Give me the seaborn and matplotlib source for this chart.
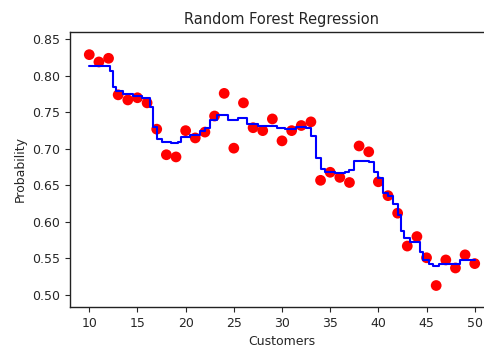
import numpy as np
import matplotlib
matplotlib.use("Agg")
import matplotlib.pyplot as plt
import seaborn as sns
import pandas as pd

# observed points
customers = list(range(10, 51))
probability = [0.829, 0.819, 0.824, 0.774, 0.767, 0.770, 0.763, 0.727, 0.692, 0.689,
               0.725, 0.715, 0.723, 0.745, 0.776, 0.701, 0.763, 0.729, 0.725, 0.741,
               0.711, 0.725, 0.732, 0.737, 0.657, 0.668, 0.661, 0.654, 0.704, 0.696,
               0.655, 0.636, 0.612, 0.567, 0.580, 0.551, 0.513, 0.548, 0.537, 0.555,
               0.543]

# random forest prediction, as steps (left edge of each step, level)
step_x = [10.0, 12.2, 12.5, 12.8, 13.5, 14.5, 15.5, 16.3, 16.6, 17.0, 17.5, 18.5,
          19.2, 19.5, 20.5, 21.5, 22.0, 22.5, 23.3, 24.4, 25.4, 26.4, 27.5, 29.5,
          30.3, 31.5, 32.5, 33.0, 33.5, 34.0, 34.5, 35.5, 36.5, 37.0, 37.5, 39.0,
          39.5, 40.0, 40.5, 41.0, 41.5, 42.0, 42.4, 42.7, 43.3, 44.3, 44.6, 45.3,
          45.7, 46.3, 47.5, 48.5, 50.0]
step_y = [0.813, 0.806, 0.785, 0.779, 0.775, 0.772, 0.769, 0.758, 0.730, 0.714,
          0.710, 0.708, 0.710, 0.716, 0.719, 0.724, 0.728, 0.740, 0.746, 0.740,
          0.742, 0.734, 0.732, 0.728, 0.727, 0.730, 0.729, 0.717, 0.687, 0.673,
          0.669, 0.667, 0.668, 0.671, 0.683, 0.682, 0.669, 0.660, 0.640, 0.635,
          0.625, 0.610, 0.588, 0.578, 0.573, 0.559, 0.548, 0.543, 0.540, 0.542,
          0.543, 0.548, 0.548]

df = pd.DataFrame({"Customers": customers, "Probability": probability})
pred = pd.DataFrame({"Customers": step_x, "Probability": step_y})

sns.set_style("ticks")
plt.rcParams.update({
    "font.family": ["DejaVu Sans"],
    "xtick.major.size": 3.5,
    "ytick.major.size": 3.5,
    "axes.edgecolor": "#222222",
    "axes.linewidth": 1.0,
})

fig = plt.figure(figsize=(4.85, 3.47), dpi=100)
ax = fig.add_axes([70 / 485, 40 / 347, 424 / 485, 275 / 347])

sns.scatterplot(data=df, x="Customers", y="Probability", color="red", s=60,
                edgecolor="none", ax=ax, zorder=2)
sns.lineplot(data=pred, x="Customers", y="Probability", color="blue",
             drawstyle="steps-post", linewidth=1.5, ax=ax, zorder=3)

ax.set_xlim(8, 52)
ax.set_ylim(0.4836, 0.86)
ax.set_xticks([10, 15, 20, 25, 30, 35, 40, 45, 50])
ax.set_yticks([0.50, 0.55, 0.60, 0.65, 0.70, 0.75, 0.80, 0.85])
ax.set_yticklabels([f"{v:.2f}" for v in ax.get_yticks()])
ax.tick_params(labelsize=9)
ax.set_title("Random Forest Regression", fontsize=10.5)
ax.set_xlabel("Customers", fontsize=9)
ax.set_ylabel("Probability", fontsize=9)

fig.savefig("out.png", dpi=100)
